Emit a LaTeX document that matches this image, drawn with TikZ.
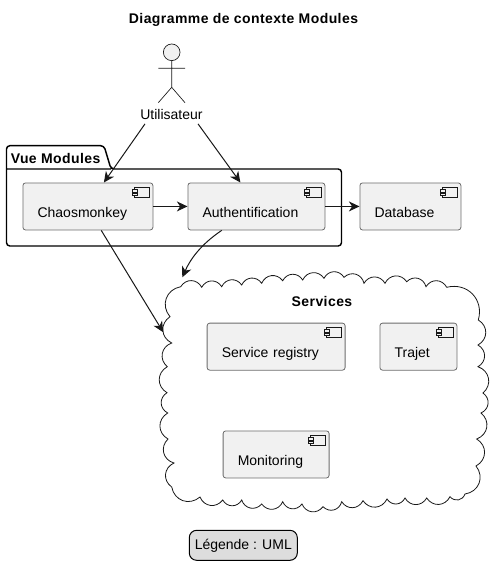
\documentclass[tikz,border=0pt]{standalone}
\usepackage{fontspec}
\setmainfont{Liberation Sans}
\newfontfamily\titlefont[LetterSpace=3]{Liberation Sans Bold}
\usetikzlibrary{arrows.meta}
\definecolor{boxfill}{HTML}{F1F1F1}
\definecolor{linecol}{HTML}{181818}
\begin{document}
\begin{tikzpicture}[x=0.75pt,y=-0.75pt,font=\fontsize{10.5pt}{12.6pt}\selectfont,
	compbox/.style={draw=gray!85!black,line width=0.6pt,fill=boxfill,rounded corners=2pt,anchor=north west,
		inner xsep=11pt,inner ysep=0pt,text width=#1*0.75pt-22pt,text height=25.9pt,text depth=9.4pt},
	conn/.style={draw=linecol,line width=0.75pt,-{Stealth[length=8pt,width=7.5pt,inset=2.5pt]}},
	titlelabel/.style={font=\fontsize{10.5pt}{12.6pt}\titlefont}]
\useasboundingbox (0,0) rectangle (499,575);
\node[titlelabel] (title) at (243.5,20) {Diagramme de contexte Modules};
% actor
\node[draw=linecol,line width=0.5pt,fill=boxfill,circle,minimum size=12.5pt,inner sep=0pt] (head) at (171.7,52.3) {};
\coordinate (hip) at (171.7,87.3);
\draw[linecol,line width=0.5pt] (head.south) -- (hip) (158.3,68.3) -- (185,68.3)
	(158.3,102.7) -- (hip) -- (185,102.7);
\node (user) at (171.5,114) {Utilisateur};
% package
\draw[draw=black,line width=1.1pt,rounded corners=2.5pt] (6.5,169) -- (6.5,145.7) -- (104,145.7) -- (111,169)
	-- (341.5,169) -- (341.5,246) -- (6.5,246) -- cycle (6.5,169) -- (111,169);
\node[titlelabel,anchor=west,inner sep=0pt] (vue) at (10.5,158) {Vue Modules};
% components
\node[compbox=130] (chaos) at (22.5,182.5) {Chaosmonkey};
\node[compbox=137] (auth) at (187.5,182.5) {Authentification};
\node[compbox=101] (db) at (359.5,182.5) {Database};
\node[compbox=138] (registry) at (206.7,322.7) {Service registry};
\node[compbox=77] (trajet) at (379.5,322.7) {Trajet};
\node[compbox=106] (monitoring) at (222.7,430.5) {Monitoring};
\foreach \n in {chaos,auth,db,registry,trajet,monitoring}{
	\draw[linecol,line width=0.35pt,fill=boxfill,shift={(\n.north east)}] (-19,5) rectangle (-4.5,15);
	\draw[linecol,line width=0.35pt,fill=boxfill,shift={(\n.north east)}] (-21,7) rectangle (-16.5,9.5) (-21,10.5) rectangle (-16.5,13);
}
% cloud
\draw[linecol,line width=0.6pt] (180.7,286.7)
	\foreach \p in {{201.7,287.3},{221.7,286.7},{241.7,285},{261.7,283.3},{282.7,280.7},{302.7,280},{324,278.3},{344,277.3},
		{364,283.3},{385,283.3},{406.7,281.7},{426,286.7},{446.7,287.3},{478.3,320},{478,345},{478,366.7},{483,393},
		{481,413},{476.7,439},{476,466},{465,494},{450,496.7},{426.7,498},{405,498},{387,499},{363,500.7},{341.7,501.7},
		{323,506.7},{302,504},{282.7,501.7},{261.7,504},{241.7,500},{222.7,500},{200,497},{171.7,487},{174,463},{168,439},
		{167.7,413},{167,392.7},{167.3,366.7},{171.7,343},{170,316.7},{180.7,286.7}}{ to[bend left=60,looseness=1.2] (\p)};
\node[titlelabel] (services) at (322,301) {Services};
\coordinate (cloudn) at (182.3,277.3);
\coordinate (cloudw) at (163.3,332.3);
% connectors
\draw[conn] ([xshift=7pt]user.south west) -- ([xshift=12pt]chaos.north);
\draw[conn] ([xshift=-7pt]user.south east) -- ([xshift=-12pt]auth.north);
\draw[conn] (chaos) -- (auth);
\draw[conn] (auth) -- (db);
\draw[conn] ([xshift=10pt]chaos.south) -- (cloudw);
\draw[conn] ([xshift=-26pt]auth.south) .. controls (200,245) and (190,260) .. (cloudn);
% legend
\node[draw=black,line width=0.75pt,fill=gray!27,rounded corners=5.5pt,minimum width=81pt,minimum height=22.5pt,inner sep=0pt] (legend) at (243.3,545.3) {Légende : UML};
\end{tikzpicture}
\end{document}
